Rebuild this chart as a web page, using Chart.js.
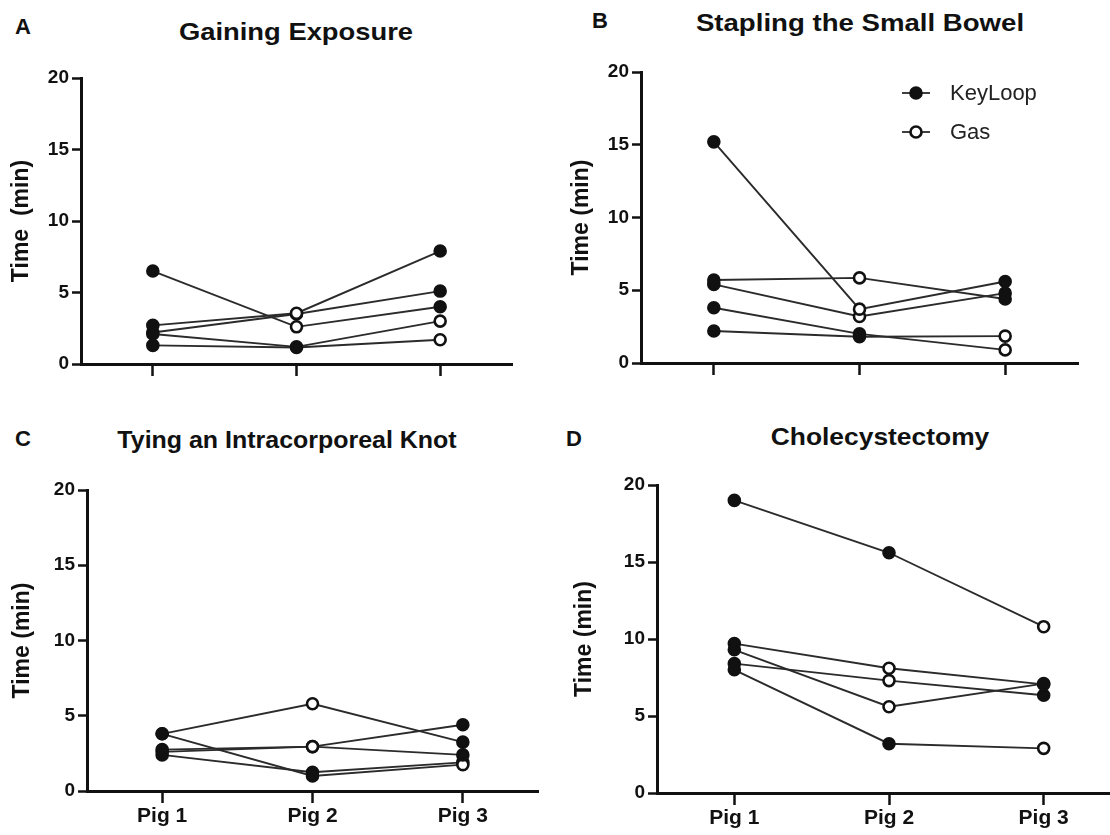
<!DOCTYPE html>
<html>
<head>
<meta charset="utf-8">
<title>Task times per pig</title>
<script src="https://cdn.jsdelivr.net/npm/chart.js@4.4.1/dist/chart.umd.min.js"></script>
<style>
  html, body { margin: 0; padding: 0; background: #fff; overflow: hidden; width: 1110px; height: 835px; }
  canvas { position: absolute; }
  .lbl { position: absolute; font-family: "Liberation Sans", Arial, sans-serif; font-weight: bold; color: #111; white-space: nowrap; line-height: 1; }
  .letter { font-size: 22px; }
  .ttl { font-size: 24px; transform-origin: center top; }
</style>
</head>
<body>

<div class="lbl letter" style="left:15px; top:16px">A</div>
<div class="lbl letter" style="left:592px; top:10px">B</div>
<div class="lbl letter" style="left:15px; top:428px">C</div>
<div class="lbl letter" style="left:566px; top:428px">D</div>

<div class="lbl ttl" style="left:296px; top:20px; transform:translateX(-50%) scaleX(1.14)">Gaining Exposure</div>
<div class="lbl ttl" style="left:860px; top:11px; transform:translateX(-50%) scaleX(1.15)">Stapling the Small Bowel</div>
<div class="lbl ttl" style="left:287px; top:428px; transform:translateX(-50%) scaleX(1.04)">Tying an Intracorporeal Knot</div>
<div class="lbl ttl" style="left:880px; top:425px; transform:translateX(-50%) scaleX(1.1)">Cholecystectomy</div>

<canvas id="chartA" width="555" height="420" style="left:0; top:0"></canvas>
<canvas id="chartB" width="555" height="420" style="left:555px; top:0"></canvas>
<canvas id="chartC" width="555" height="415" style="left:0; top:420px"></canvas>
<canvas id="chartD" width="575" height="415" style="left:555px; top:420px"></canvas>

<script>
// ----- data -----
const pigs = ['Pig 1', 'Pig 2', 'Pig 3'];

// method used for each line at Pig 1..3 (same line order in every panel)
const methods = [
  ['KeyLoop', 'Gas', 'KeyLoop'],
  ['KeyLoop', 'Gas', 'KeyLoop'],
  ['KeyLoop', 'Gas', 'KeyLoop'],
  ['KeyLoop', 'KeyLoop', 'Gas'],
  ['KeyLoop', 'KeyLoop', 'Gas']
];
const legendLabels = ['KeyLoop', 'Gas'];

// times in minutes
const exposure = [[6.5, 2.6, 4.0], [2.7, 3.55, 7.9], [2.2, 3.5, 5.1], [2.1, 1.2, 3.0], [1.3, 1.15, 1.7]];
const stapling = [[15.2, 3.7, 5.6], [5.7, 5.85, 4.4], [5.4, 3.2, 4.8], [3.8, 2.0, 0.9], [2.2, 1.8, 1.85]];
const knot     = [[3.8, 5.8, 3.25], [2.75, 2.95, 4.4], [2.6, 2.95, 2.4], [3.8, 1.0, 1.75], [2.4, 1.25, 1.9]];
const chole    = [[9.7, 8.1, 7.05], [9.3, 5.6, 7.1], [8.4, 7.3, 6.35], [19.0, 15.6, 10.8], [8.0, 3.2, 2.9]];

const yTicks = [0, 5, 10, 15, 20];

// ----- helpers -----
const FONT = '"Liberation Sans", Arial, sans-serif';
const INK = '#111';
const LINE = '#2b2b2b';
Chart.defaults.font.family = FONT;

const markFill = m => m === 'KeyLoop' ? INK : '#fff';

// legend drawn inside panel B (line + marker, like the original)
const keyLegend = {
  id: 'keyLegend',
  afterDatasetsDraw(chart) {
    const { ctx, chartArea } = chart;
    const mx = chartArea.left + 275, tx = chartArea.left + 309;
    legendLabels.forEach((lab, i) => {
      const y = chartArea.top + 21 + i * 39;
      ctx.save();
      ctx.strokeStyle = LINE; ctx.lineWidth = 1.8;
      ctx.beginPath(); ctx.moveTo(mx - 14, y); ctx.lineTo(mx + 14, y); ctx.stroke();
      ctx.beginPath(); ctx.arc(mx, y, 5.5, 0, Math.PI * 2);
      ctx.fillStyle = markFill(lab); ctx.fill();
      ctx.strokeStyle = INK; ctx.lineWidth = 2.6; ctx.stroke();
      ctx.fillStyle = '#222';
      ctx.font = '22px ' + FONT;
      ctx.textBaseline = 'middle';
      ctx.fillText(lab, tx, y + 1);
      ctx.restore();
    });
  }
};

// box: canvas position/size + wanted plot area edges (page coords)
function makePanel(id, series, box, opts) {
  const datasets = series.map((vals, i) => ({
    data: vals,
    borderColor: LINE,
    borderWidth: 1.9,
    tension: 0,
    pointRadius: 5.5,
    pointHoverRadius: 5.5,
    pointBorderWidth: 2.6,
    pointBorderColor: INK,
    pointBackgroundColor: methods[i].map(markFill)
  }));

  return new Chart(document.getElementById(id), {
    type: 'line',
    data: { labels: pigs, datasets },
    options: {
      responsive: false,
      animation: false,
      events: [],
      layout: { padding: { left: 0, top: box.t - box.top, right: box.left + box.w - box.r, bottom: 0 } },
      plugins: { legend: { display: false }, tooltip: { enabled: false } },
      scales: {
        x: {
          offset: true,
          grid: { offset: false, drawOnChartArea: false, tickLength: 12, tickColor: INK, tickWidth: 2.5 },
          border: { color: INK, width: 3 },
          ticks: { display: opts.xLabels, color: INK, padding: 1, font: { size: 21, weight: 'bold' } },
          afterFit: s => { s.height = box.top + box.h - box.b; }
        },
        y: {
          min: 0, max: 20,
          afterBuildTicks: s => { s.ticks = yTicks.map(v => ({ value: v })); },
          grid: { drawOnChartArea: false, tickLength: 9, tickColor: INK, tickWidth: 2.5 },
          border: { color: INK, width: 3 },
          ticks: { color: INK, padding: 3, font: { size: 19, weight: 'bold' } },
          title: {
            display: true, text: opts.yTitle, color: INK,
            font: { size: 23, weight: 'bold' },
            padding: { top: box.yt - box.left - 13.8, bottom: 0 }
          },
          afterFit: s => { s.width = box.l - box.left; }
        }
      }
    },
    plugins: opts.legend ? [keyLegend] : []
  });
}

makePanel('chartA', exposure,
  { left: 0, top: 0, w: 555, h: 420, l: 81, r: 512, t: 78, b: 364, yt: 22 },
  { yTitle: 'Time  (min)', xLabels: false });
makePanel('chartB', stapling,
  { left: 555, top: 0, w: 555, h: 420, l: 641, r: 1078, t: 72, b: 363, yt: 582 },
  { yTitle: 'Time (min)', xLabels: false, legend: true });
makePanel('chartC', knot,
  { left: 0, top: 420, w: 555, h: 415, l: 87, r: 538, t: 490, b: 791, yt: 23 },
  { yTitle: 'Time (min)', xLabels: true });
makePanel('chartD', chole,
  { left: 555, top: 420, w: 575, h: 415, l: 657, r: 1121, t: 485, b: 793, yt: 585 },
  { yTitle: 'Time (min)', xLabels: true });
</script>
</body>
</html>
